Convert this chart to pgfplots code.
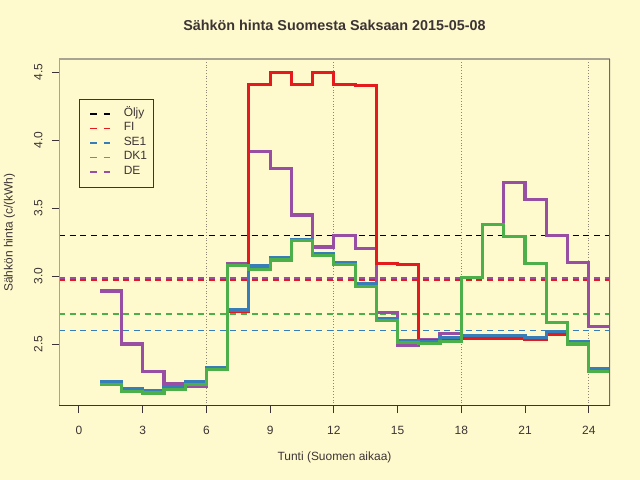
\documentclass[border=0pt]{standalone}
\usepackage{pgfplots}
\pgfplotsset{compat=1.18}
\usepackage{fontspec}
\setmainfont{Liberation Sans}
\definecolor{bgc}{HTML}{FFFACD}
\definecolor{cfi}{HTML}{E41A1C}
\definecolor{cse}{HTML}{377EB8}
\definecolor{cdk}{HTML}{4DAF4A}
\definecolor{cde}{HTML}{984EA3}
\definecolor{boxlight}{HTML}{A9A391}
\definecolor{boxdark}{HTML}{3C3434}
\definecolor{boxright}{HTML}{6E6A60}
\definecolor{gridc}{HTML}{8C8672}
\begin{document}
\begin{tikzpicture}
\fill[bgc] (0,0) rectangle (640bp,480bp);
\useasboundingbox (0,0) rectangle (640bp,480bp);
\begin{axis}[
  at={(59bp,74bp)}, anchor=south west,
  scale only axis, width=551bp, height=347bp,
  xmin=-0.94, xmax=25, ymin=2.044, ymax=4.598,
  axis line style={draw=none},
  xtick={0,3,6,9,12,15,18,21,24},
  ytick={2.5,3.0,3.5,4.0,4.5},
  yticklabels={2.5,3.0,3.5,4.0,4.5},
  xtick pos=bottom, ytick pos=left,
  tick align=outside, major tick length=7bp,
  tick style={boxdark, line width=1bp},
  /pgf/number format/assume math mode=true,
  every tick label/.append style={font=\fontsize{12}{14}\selectfont, text=boxdark},
  every x tick label/.append style={yshift=-9.5bp},
  every y tick label/.append style={xshift=-6bp, rotate=90, anchor=south},
  title={\textbf{Sähkön hinta Suomesta Saksaan 2015-05-08}},
  title style={at={(axis description cs:0.5,1.0793)}, anchor=center, font=\fontsize{14.4}{16}\selectfont, text=boxdark},
  xlabel={Tunti (Suomen aikaa)},
  xlabel style={at={(axis description cs:0.5,-0.147)}, anchor=center, font=\fontsize{12}{14}\selectfont, text=boxdark},
  ylabel={Sähkön hinta (c/(kWh)},
  ylabel style={at={(axis description cs:-0.0898,0.5)}, anchor=center, font=\fontsize{12}{14}\selectfont, text=boxdark},
  legend cell align=left,
  legend style={at={(axis description cs:0.0363,0.8847)}, anchor=north west,
    draw=boxdark, line width=0.8bp, fill=none,
    font=\fontsize{12}{14}\selectfont, text=boxdark,
    inner xsep=6bp, inner ysep=7.5bp,
    nodes={inner sep=0pt, text height=9.5bp, text depth=5bp},
    /tikz/every odd column/.append style={column sep=12.5bp}},
  legend image code/.code={\draw[#1, line width=1.6bp, dash pattern=on 6.5bp off 7bp] (4.3bp,0bp) -- (24.3bp,0bp); \path (0bp,0bp);},
]
% vertical dotted lines
\addplot[gridc, dotted, line width=0.8bp, forget plot] coordinates {(6,2.044) (6,4.598)};
\addplot[gridc, dotted, line width=0.8bp, forget plot] coordinates {(12,2.044) (12,4.598)};
\addplot[gridc, dotted, line width=0.8bp, forget plot] coordinates {(18,2.044) (18,4.598)};
\addplot[gridc, dotted, line width=0.8bp, forget plot] coordinates {(24,2.044) (24,4.598)};
% reference lines (legend)
\addplot[black, line width=1.5bp, dash pattern=on 6bp off 4.7bp] coordinates {(-0.94,3.30) (25,3.30)};
\addlegendentry{Öljy}
\addplot[cfi, line width=1.5bp, dash pattern=on 6bp off 4.7bp] coordinates {(-0.94,2.97) (25,2.97)};
\addlegendentry{FI}
\addplot[cse, line width=1.5bp, dash pattern=on 6bp off 4.7bp] coordinates {(-0.94,2.60) (25,2.60)};
\addlegendentry{SE1}
\addplot[cdk, line width=1.5bp, dash pattern=on 6bp off 4.7bp] coordinates {(-0.94,2.72) (25,2.72)};
\addlegendentry{DK1}
\addplot[cde, line width=1.5bp, dash pattern=on 6bp off 4.7bp] coordinates {(-0.94,2.985) (25,2.985)};
\addlegendentry{DE}
% DE
\addplot[cde, line width=3.2bp, const plot, forget plot] coordinates {
(1,2.89) (2,2.50) (3,2.30) (4,2.21) (5,2.19) (6,2.33) (7,3.09) (8,3.92) (9,3.79) (10,3.45) (11,3.215) (12,3.30)
(13,3.205) (14,2.735) (15,2.49) (16,2.53) (17,2.576) (18,2.99) (19,3.38) (20,3.69) (21,3.566) (22,3.30) (23,3.10) (24,2.63) (25,2.63)};
% FI
\addplot[cfi, line width=3.2bp, const plot, forget plot] coordinates {
(1,2.21) (2,2.16) (3,2.145) (4,2.175) (5,2.215) (6,2.32) (7,2.74) (8,4.41) (9,4.50) (10,4.41) (11,4.50) (12,4.41)
(13,4.40) (14,3.09) (15,3.085) (16,2.525) (17,2.545) (18,2.54) (19,2.54) (20,2.54) (21,2.535) (22,2.57) (23,2.51) (24,2.30) (25,2.30)};
% SE1
\addplot[cse, line width=3.2bp, const plot, forget plot] coordinates {
(1,2.22) (2,2.17) (3,2.157) (4,2.19) (5,2.225) (6,2.33) (7,2.75) (8,3.075) (9,3.137) (10,3.27) (11,3.167) (12,3.10)
(13,2.946) (14,2.69) (15,2.527) (16,2.515) (17,2.55) (18,2.56) (19,2.56) (20,2.56) (21,2.55) (22,2.59) (23,2.517) (24,2.316) (25,2.316)};
% DK1
\addplot[cdk, line width=3.2bp, const plot, forget plot] coordinates {
(1,2.20) (2,2.15) (3,2.14) (4,2.165) (5,2.20) (6,2.31) (7,3.08) (8,3.05) (9,3.118) (10,3.26) (11,3.152) (12,3.086)
(13,2.926) (14,2.676) (15,2.51) (16,2.505) (17,2.52) (18,2.99) (19,3.38) (20,3.29) (21,3.09) (22,2.66) (23,2.50) (24,2.295) (25,2.295)};
% box
\draw[boxlight, line width=1.5bp] (rel axis cs:0,0) -- (rel axis cs:0,1) -- (rel axis cs:1,1);
\draw[boxright, line width=1.5bp] (rel axis cs:1,1) -- (rel axis cs:1,0);
\draw[boxdark, line width=1.5bp] (rel axis cs:0,0) -- (rel axis cs:1,0);
\end{axis}
\end{tikzpicture}
\end{document}
